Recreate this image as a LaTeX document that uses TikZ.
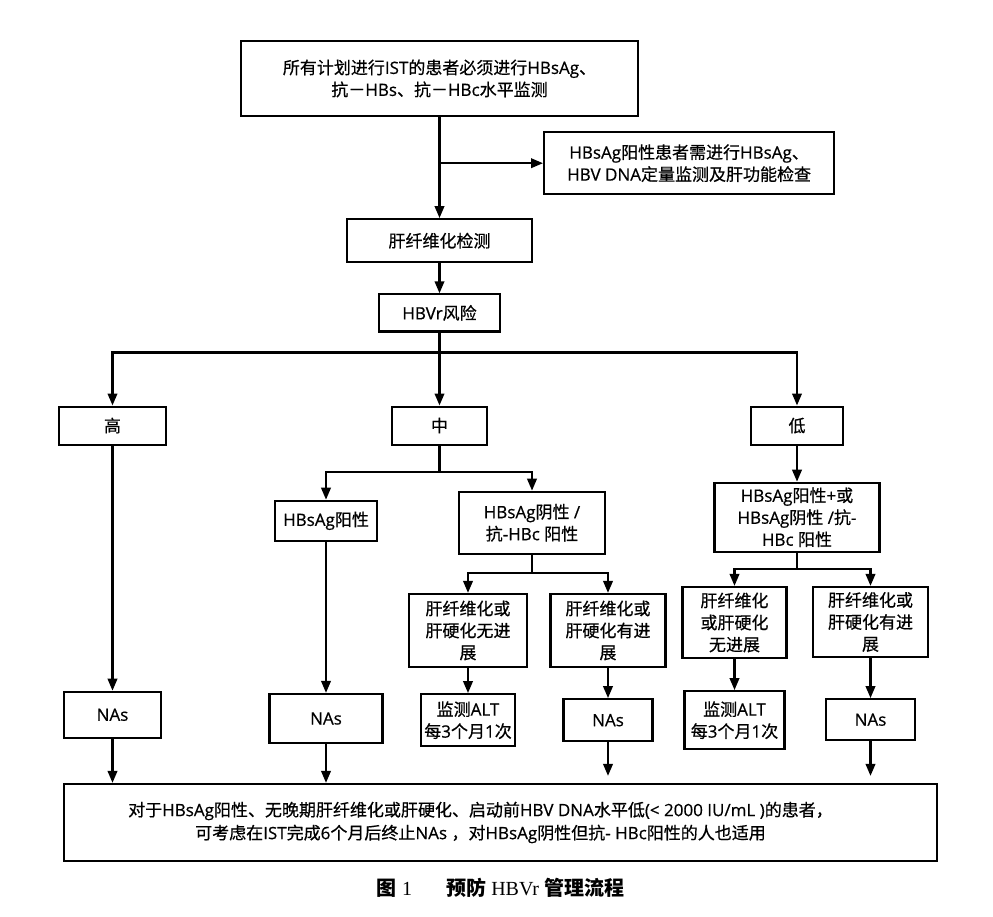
\documentclass[tikz,border=0pt]{standalone}
\usepackage{fontspec}
\setmainfont{Open Sans}[FakeBold=0.6]
\newfontfamily\cjkfont{Noto Sans CJK SC}[FakeBold=0.6]
\newfontfamily\capcjk{Noto Sans CJK SC}
\newfontfamily\capserif{Liberation Serif}
% CJK characters switch to the CJK font
\XeTeXinterchartokenstate=1
\newXeTeXintercharclass\cjkclass
\newcount\cjkc
\cjkc="3000 \loop \XeTeXcharclass\cjkc=\cjkclass \advance\cjkc 1 \ifnum\cjkc<"3040 \repeat
\cjkc="4E00 \loop \XeTeXcharclass\cjkc=\cjkclass \advance\cjkc 1 \ifnum\cjkc<"A000 \repeat
\cjkc="FF00 \loop \XeTeXcharclass\cjkc=\cjkclass \advance\cjkc 1 \ifnum\cjkc<"FFF0 \repeat
\XeTeXinterchartoks 0 \cjkclass = {\begingroup\cjkfont}
\XeTeXinterchartoks 4095 \cjkclass = {\begingroup\cjkfont}
\XeTeXinterchartoks \cjkclass 0 = {\endgroup}
\XeTeXinterchartoks \cjkclass 4095 = {\endgroup}
\usetikzlibrary{positioning,arrows.meta}
\tikzset{
  fb/.style={draw=black, line width=2.2pt, align=center, inner sep=1pt,
             font=\fontsize{17}{22}\selectfont},
  fa/.style={-{Triangle[length=12pt,width=9.5pt]}, line width=2.2pt}
}

\begin{document}
\begin{tikzpicture}[x=1pt,y=1pt]
  \useasboundingbox (0,0) rectangle (993,-917);
  % spine
  \node[fb, minimum width=397pt, minimum height=75pt] (top) at (439.5,-78.5)
    {所有计划进行IST的患者必须进行HBsAg、\\抗－HBs、抗－HBc水平监测};
  \node[fb, minimum width=290pt, minimum height=62pt, below right=14pt and 103.5pt of top.south] (screen)
    {HBsAg阳性患者需进行HBsAg、\\HBV DNA定量监测及肝功能检查};
  \node[fb, minimum width=185pt, minimum height=43pt, below=101pt of top] (fibro) {肝纤维化检测};
  \node[fb, minimum width=121pt, minimum height=37pt, below=30pt of fibro] (risk) {HBVr风险};
  % risk levels
  \node[fb, minimum width=107pt, minimum height=38pt, below=73pt of risk, xshift=-327pt] (high) {高};
  \node[fb, minimum width=95pt, minimum height=38pt, below=73pt of risk] (mid) {中};
  \node[fb, minimum width=92pt, minimum height=38pt, below=73pt of risk, xshift=357.5pt] (low) {低};
  % middle branch
  \node[fb, minimum width=102pt, minimum height=40pt, below=54pt of mid, xshift=-113.5pt] (mpos) {HBsAg阳性};
  \node[fb, minimum width=146pt, minimum height=62pt, below=45pt of mid, xshift=92.5pt] (mneg)
    {HBsAg阴性 /\\抗-HBc 阳性};
  \node[fb, minimum width=118pt, minimum height=73pt, below=38pt of mneg, xshift=-64pt] (mnoprog)
    {肝纤维化或\\肝硬化无进\\展};
  \node[fb, minimum width=115pt, minimum height=73pt, below=38pt of mneg, xshift=76pt] (mprog)
    {肝纤维化或\\肝硬化有进\\展};
  \node[fb, minimum width=94pt, minimum height=52pt, below=25pt of mnoprog] (malt) {监测ALT\\每3个月1次};
  \node[fb, minimum width=89pt, minimum height=42pt, below=30pt of mprog] (mnas) {NAs};
  \node[fb, minimum width=113pt, minimum height=49pt, below=151pt of mpos] (pnas) {NAs};
  \node[fb, minimum width=97pt, minimum height=46pt, below=245pt of high] (hnas) {NAs};
  % low branch
  \node[fb, minimum width=165pt, minimum height=69pt, below=36pt of low] (lboth)
    {HBsAg阳性+或\\HBsAg阴性 /抗-\\HBc 阳性};
  \node[fb, minimum width=104pt, minimum height=71pt, below=33pt of lboth, xshift=-62.5pt] (lnoprog)
    {肝纤维化\\或肝硬化\\无进展};
  \node[fb, minimum width=115pt, minimum height=70pt, below=33pt of lboth, xshift=73.5pt] (lprog)
    {肝纤维化或\\肝硬化有进\\展};
  \node[fb, minimum width=100pt, minimum height=58pt, below=31pt of lnoprog] (lalt) {监测ALT\\每3个月1次};
  \node[fb, minimum width=89pt, minimum height=41pt, below=40pt of lprog] (lnas) {NAs};
  % conclusion + caption
  \node[fb, minimum width=873pt, minimum height=77pt, font=\fontsize{17}{23}\selectfont,
        below right=44pt and 0pt of hnas.south west] (note)
    {对于HBsAg阳性、无晚期肝纤维化或肝硬化、启动前HBV DNA水平低(< 2000 IU/mL )的患者，\hspace*{40pt}\\
     可考虑在IST完成6个月后终止NAs ，对HBsAg阴性但抗- HBc阳性的人也适用\hspace*{40pt}};
  \node[below=13pt of note, font=\fontsize{20}{22}\selectfont\let\cjkfont\capcjk] (cap)
    {{\bfseries 图}~{\capserif 1}\hspace{1.7em}{\bfseries 预防}~{\capserif HBVr}~{\bfseries 管理流程}};
  % connectors
  \draw[fa] (top) -- (fibro);
  \draw[fa] (top.south |- screen.west) -- (screen.west);
  \draw[fa] (fibro) -- (risk);
  \draw[fa] (risk) -- (mid);
  \draw[fa] (risk.south) -- ++(0,-20pt) -| (high.north);
  \draw[fa] (risk.south) -- ++(0,-20pt) -| (low.north);
  \draw[fa] (mid.south) -- ++(0,-26.5pt) -| (mpos.north);
  \draw[fa] (mid.south) -- ++(0,-26.5pt) -| (mneg.north);
  \draw[fa] (mneg.south) -- ++(0,-18pt) -| (mnoprog.north);
  \draw[fa] (mneg.south) -- ++(0,-18pt) -| (mprog.north);
  \draw[fa] (low) -- (lboth);
  \draw[fa] (lboth.south) -- ++(0,-16pt) -| (lnoprog.north);
  \draw[fa] (lboth.south) -- ++(0,-16pt) -| (lprog.north);
  \draw[fa] (high) -- (hnas);
  \draw[fa] (mpos) -- (pnas);
  \draw[fa] (mnoprog) -- (malt);
  \draw[fa] (mprog) -- (mnas);
  \draw[fa] (lnoprog) -- (lalt);
  \draw[fa] (lprog) -- (lnas);
  \draw[fa] (hnas) -- (hnas |- note.north);
  \draw[fa] (pnas) -- (pnas |- note.north);
  \draw[fa, shorten >=7pt] (mnas) -- (mnas |- note.north);
  \draw[fa, shorten >=7pt] (lnas) -- (lnas |- note.north);
\end{tikzpicture}
\end{document}
